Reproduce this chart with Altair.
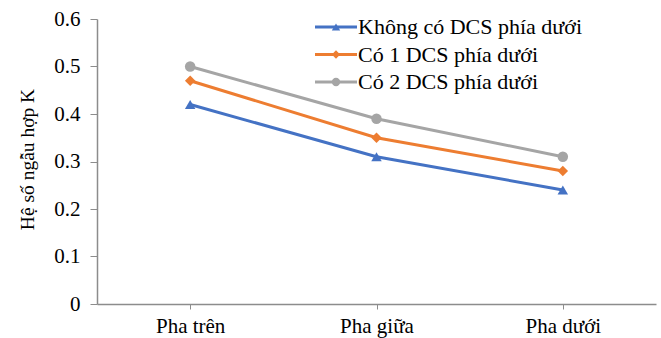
import altair as alt
import pandas as pd

categories = ["Pha trên", "Pha giữa", "Pha dưới"]
series_names = ["Không có DCS phía dưới", "Có 1 DCS phía dưới", "Có 2 DCS phía dưới"]
vals_none = [0.42, 0.31, 0.24]
vals_one = [0.47, 0.35, 0.28]
vals_two = [0.50, 0.39, 0.31]
colors = ["#4472C4", "#ED7D31", "#A5A5A5"]
shapes = ["triangle-up", "diamond", "circle"]
y_ticks = [0, 0.1, 0.2, 0.3, 0.4, 0.5, 0.6]

rows = []
for name, vals in zip(series_names, [vals_none, vals_one, vals_two]):
    for c, v in zip(categories, vals):
        rows.append({"cat": c, "series": name, "value": v})
df = pd.DataFrame(rows)
leg = pd.DataFrame({"series": series_names, "row": [0, 1, 2]})

FONT = "Liberation Serif"
AX = "#8c8c8c"
color_enc = alt.Color("series:N", scale=alt.Scale(domain=series_names, range=colors), legend=None)
shape_enc = alt.Shape("series:N", scale=alt.Scale(domain=series_names, range=shapes), legend=None)

x_enc = alt.X("cat:N", sort=categories, title=None,
              scale=alt.Scale(paddingInner=0, paddingOuter=0),
              axis=alt.Axis(labelAngle=0, labelFont=FONT, labelFontSize=21, labelColor="#000000",
                            labelPadding=6, tickSize=5, tickColor=AX, domainColor=AX,
                            domainWidth=1.5, grid=False))
y_enc = alt.Y("value:Q", scale=alt.Scale(domain=[0, 0.6], nice=False),
              axis=alt.Axis(values=y_ticks, grid=False, title="Hệ số ngẫu hợp K",
                            labelExpr="datum.value == 0 ? '0' : format(datum.value, '.1f')",
                            labelFont=FONT, labelFontSize=21, labelColor="#000000", labelPadding=10,
                            tickSize=7, tickColor=AX, domainColor=AX, domainWidth=1.5,
                            titleFont=FONT, titleFontSize=19.5, titleFontWeight="normal",
                            titleColor="#000000", titleAngle=-90, titleAlign="center",
                            titleBaseline="middle", titleX=-70, titleY=140))

base = alt.Chart(df)
lines = base.mark_line(strokeWidth=3).encode(x=x_enc, y=y_enc, color=color_enc, detail="series:N")
points = base.mark_point(filled=True, size=110, opacity=1).encode(x=x_enc, y=y_enc, color=color_enc, shape=shape_enc)
main = alt.layer(lines, points)

ly = alt.Y("row:Q", scale=alt.Scale(domain=[0, 2], range=[8, 63]), axis=None)
lb = alt.Chart(leg)
l_rule = lb.mark_rule(strokeWidth=3).encode(x=alt.value(218), x2=alt.value(260), y=ly, color=color_enc)
l_pt = lb.mark_point(filled=True, size=70, opacity=1).encode(x=alt.value(239), y=ly, color=color_enc, shape=shape_enc)
l_txt = lb.mark_text(align="left", baseline="middle", font=FONT, fontSize=22, color="#000000").encode(
    x=alt.value(261), y=ly, text="series:N")
legend_layer = alt.layer(l_rule, l_pt, l_txt)

chart = alt.layer(main, legend_layer).resolve_scale(y="independent").properties(
    width=559, height=285,
    autosize=alt.AutoSizeParams(type="none"),
    padding={"left": 97, "top": 19, "right": 5, "bottom": 34},
    background="white",
).configure_view(stroke=None)

chart.save("out.html", embed_options={"renderer": "svg", "actions": False})
